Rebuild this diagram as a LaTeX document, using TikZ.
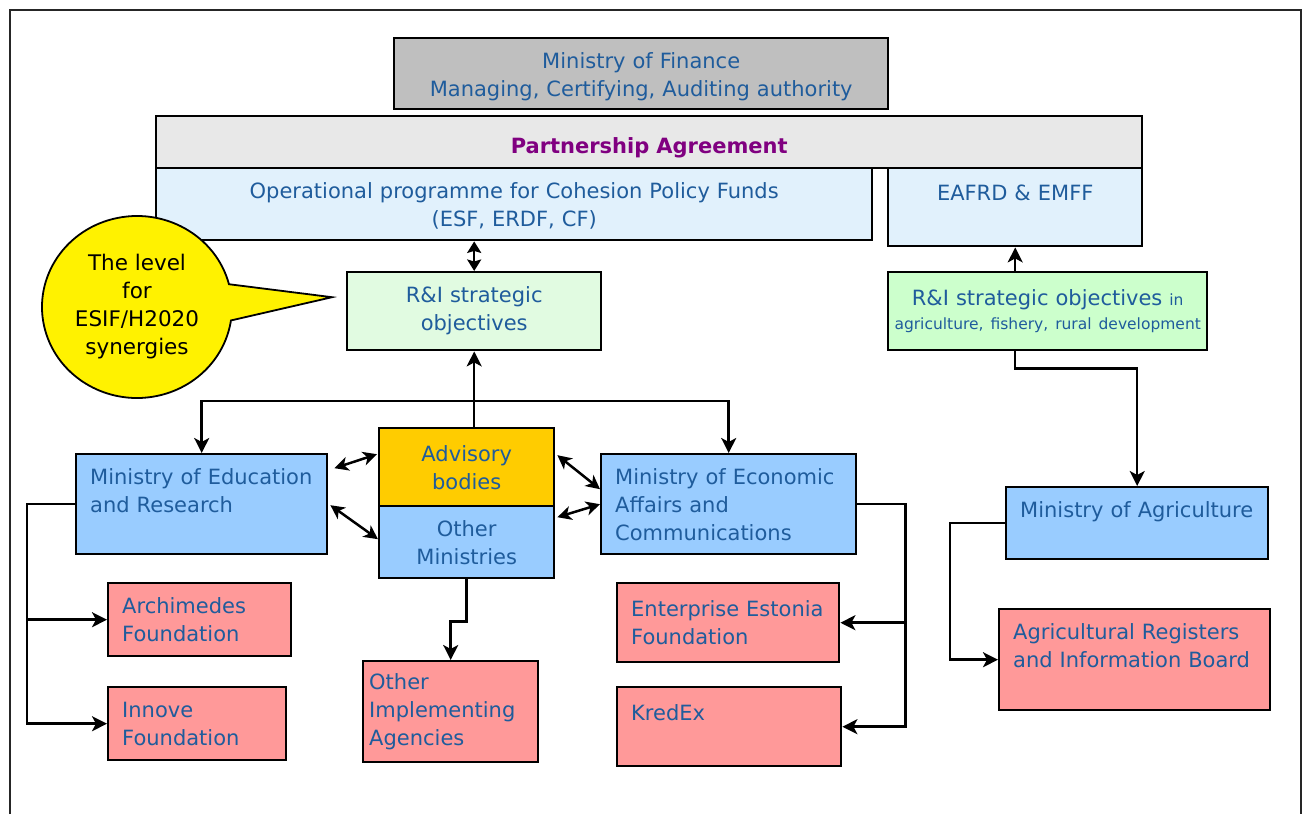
\documentclass[tikz,border=0pt]{standalone}
\usepackage{fontspec}
\setmainfont{DejaVu Sans}
\usetikzlibrary{arrows.meta,shapes.callouts,calc}

\definecolor{txtblue}{HTML}{1F5C9C}
\definecolor{agrpurple}{HTML}{800080}
\definecolor{fingray}{HTML}{BFBFBF}
\definecolor{pagray}{HTML}{E8E8E8}
\definecolor{opblue}{HTML}{E1F1FC}
\definecolor{objgreen}{HTML}{E1FBE1}
\definecolor{agrgreen}{HTML}{CCFFCC}
\definecolor{minblue}{HTML}{99CCFF}
\definecolor{advgold}{HTML}{FFCC00}
\definecolor{agencyred}{HTML}{FF9999}

\tikzset{
  box/.style={draw=black,line width=2.4pt,anchor=north west,inner xsep=14pt,inner ysep=0pt,
    text=txtblue,font=\fontsize{21}{28}\selectfont},
  link/.style={line width=2.5pt,-{Stealth[length=15pt,width=15pt,inset=4pt]}},
  both/.style={line width=2.5pt,{Stealth[length=14pt,width=14pt,inset=4pt]}-{Stealth[length=14pt,width=14pt,inset=4pt]}}
}

\begin{document}
\begin{tikzpicture}[x=1pt,y=-1pt]
  \useasboundingbox (0,0) rectangle (1309,814);

  % Frame
  \draw[line width=1.8pt,black!85] (10,814) -- (10,10) -- (1301,10) -- (1301,814);

  % Top level
  \node[box,fill=fingray,minimum width=494pt,minimum height=71pt,text width=466pt,text height=22pt,align=center] (fin) at (393,37)
    {Ministry of Finance\\Managing, Certifying, Auditing authority};
  \node[box,fill=pagray,minimum width=986pt,minimum height=52pt,text width=958pt,text height=28pt,align=center,
    text=agrpurple,font=\fontsize{21}{28}\selectfont\bfseries] (pa) at (155,115) {Partnership Agreement};
  \node[box,fill=opblue,minimum width=716pt,minimum height=72pt,text width=688pt,text height=19pt,align=center] (op) at (155,167)
    {Operational programme for Cohesion Policy Funds\\(ESF, ERDF, CF)};
  \node[box,fill=opblue,minimum width=254pt,minimum height=78pt,text width=226pt,align=center] (eafrd) at (887,167)
    {EAFRD \& EMFF\\\mbox{}};

  % Strategic objectives
  \node[box,fill=objgreen,minimum width=254pt,minimum height=78pt,text width=226pt,align=center] (ril) at (346,271)
    {R\&I strategic\\objectives};
  \node[box,fill=agrgreen,minimum width=319pt,minimum height=78pt,inner xsep=1pt,text width=317pt,align=center] (rir) at (887,271)
    {R\&I strategic objectives {\fontsize{15.5}{20}\selectfont in}\\[-4pt]{\fontsize{15.5}{20}\selectfont agriculture, fishery, rural development}};

  % Callout
  \coordinate (tip) at ($(ril.west)+(-14,-14)$);
  \node[ellipse callout,draw=black,line width=1.8pt,fill=yellow,minimum width=190pt,minimum height=182pt,
    inner sep=0pt,align=center,callout pointer arc=23,callout absolute pointer={(tip)},
    font=\fontsize{21.5}{28}\selectfont] (note) at (137,307) {The level\\for\\ESIF/H2020\\synergies};

  % Ministries
  \node[box,fill=advgold,minimum width=175pt,minimum height=78pt,inner xsep=4pt,text width=167pt,align=center] (adv) at (378,427)
    {Advisory\\bodies};
  \node[box,fill=minblue,minimum width=175pt,minimum height=72pt,inner xsep=4pt,text width=167pt,align=center] (oth) at (378,505)
    {Other\\Ministries};
  \node[box,fill=minblue,minimum width=251pt,minimum height=100pt,text width=223pt,align=left] (moer) at (75,453)
    {Ministry of Education\\and Research\\\mbox{}};
  \node[box,fill=minblue,minimum width=255pt,minimum height=100pt,text width=227pt,align=left] (moeac) at (600,453)
    {Ministry of Economic\\Affairs and\\Communications};
  \node[box,fill=minblue,minimum width=262pt,minimum height=72pt,text width=234pt,align=left] (moa) at (1005,486)
    {Ministry of Agriculture\\\mbox{}};

  % Agencies
  \node[box,fill=agencyred,minimum width=183pt,minimum height=73pt,text width=155pt,align=left] (arch) at (107,582)
    {Archimedes\\Foundation};
  \node[box,fill=agencyred,minimum width=178pt,minimum height=73pt,text width=150pt,align=left] (inn) at (107,686)
    {Innove\\Foundation};
  \node[box,fill=agencyred,minimum width=175pt,minimum height=101pt,inner xsep=6pt,text width=163pt,align=left] (oi) at (362,660)
    {Other\\Implementing\\Agencies};
  \node[box,fill=agencyred,minimum width=222pt,minimum height=79pt,text width=194pt,align=left] (ent) at (616,582)
    {Enterprise Estonia\\Foundation};
  \node[box,fill=agencyred,minimum width=224pt,minimum height=79pt,text width=196pt,align=left] (kx) at (616,686)
    {KredEx\\\mbox{}};
  \node[box,fill=agencyred,minimum width=271pt,minimum height=101pt,text width=243pt,align=left] (agr) at (998,608)
    {Agricultural Registers\\and Information Board\\\mbox{}};

  % Links to the programmes
  \draw[line width=2.5pt,{Stealth[length=11.5pt,width=14pt,inset=2pt]}-{Stealth[length=11.5pt,width=14pt,inset=2pt]}]
    (ril.north) -- (ril.north |- op.south);
  \draw[link] (ril.south |- adv.north) -- (ril.south);
  \draw[link] (eafrd.south |- rir.north) -- (eafrd.south);

  % Fork to the two ministries
  \coordinate (fork) at (ril.south |- 0,401);
  \draw[line width=2.5pt] (ril.south |- adv.north) -- (fork);
  \draw[link] (fork) -| (moer.north);
  \draw[link] (fork) -| (moeac.north);

  % Between ministries
  \draw[both] ($(moer.east)+(6,-36)$) -- ($(adv.west)+(-1,-13)$);
  \draw[both] ($(moer.east)+(2,1)$) -- ($(oth.west)+(0,-3)$);
  \draw[both] ($(adv.east)+(2,-12)$) -- ($(moeac.west)+(0,-15)$);
  \draw[both] ($(oth.east)+(2,-25)$) -- (moeac.west);

  % Ministries to agencies
  \draw[link] (moer.west) -- ++(-48,0) |- (arch.west);
  \draw[link] (moer.west) -- ++(-48,0) |- (inn.west);
  \draw[link] (oth.south) -- ++(0,42) -| (oi.north);
  \draw[link] (moeac.east) -- ++(48,0) |- (ent.east);
  \draw[link] (moeac.east) -- ++(48,0) |- (kx.east);
  \draw[link] (eafrd.south |- rir.south) -- ++(0,17) -| (moa.north);
  \draw[link] (moa.west) -- ++(-55,0) |- (agr.west);
\end{tikzpicture}
\end{document}
